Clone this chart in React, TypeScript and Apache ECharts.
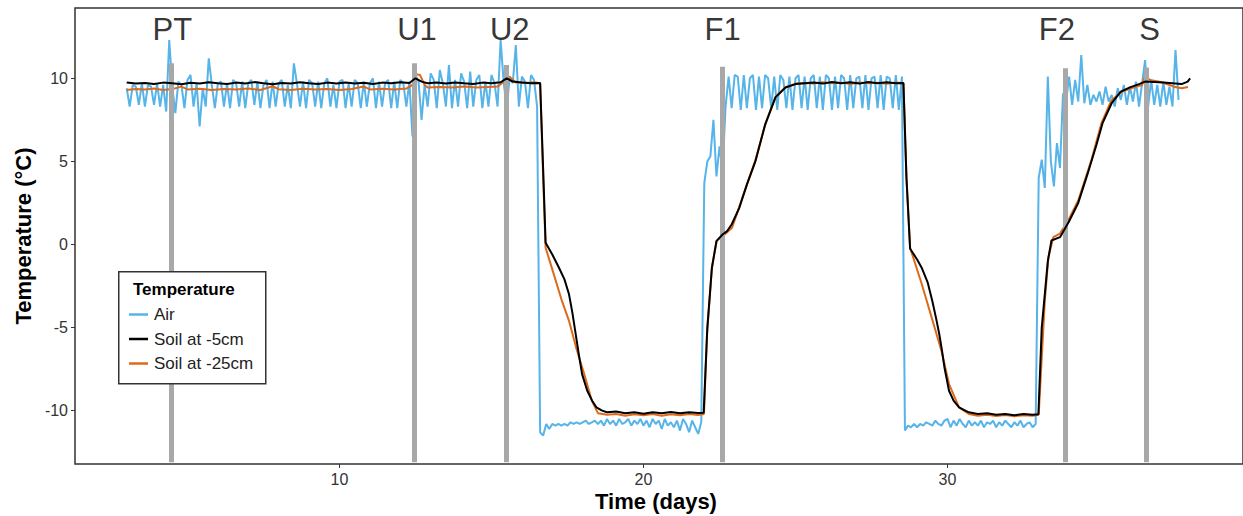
import React, { useEffect, useRef } from "react";
import * as echarts from "echarts";

// ---- data ----
const X_TICKS = [10, 20, 30];
const Y_TICKS = [-10, -5, 0, 5, 10];

const EVENT_LABELS = ["PT", "U1", "U2", "F1", "F2", "S"];
const EVENT_T = [4.45, 12.46, 15.5, 22.59, 33.87, 36.53];
const EVENT_TOP = [10.9, 10.9, 10.8, 10.7, 10.6, 10.65];
const EVENT_BOTTOM = -13.1;
const EVENT_LABEL_T = [4.5, 12.55, 15.6, 22.6, 33.6, 36.65];
const EVENT_LABEL_Y = 12.95;

// Air temperature, sampled every 0.1 day from day 3.0
const AIR_T0 = 3.0;
const AIR_STEP = 0.1;
const AIR_VALUES = [
  9.4, 8.3, 9.6, 9.5, 8.4, 9.7, 8.3, 9.6, 9.5, 8.4,
  9.7, 8.3, 9.6, 8.0, 12.3, 9.5, 7.9, 9.8, 9.6, 8.2,
  9.9, 10.2, 8.3, 9.7, 7.1, 9.4, 8.3, 11.2, 9.6, 8.2,
  9.7, 9.8, 8.3, 9.7, 8.2, 9.9, 9.7, 8.3, 9.8, 8.2,
  9.7, 9.9, 8.4, 9.8, 8.2, 9.6, 9.9, 8.2, 9.8, 8.3,
  9.7, 9.9, 8.3, 9.6, 8.2, 10.9, 9.7, 8.3, 9.8, 8.2,
  9.9, 9.7, 8.3, 9.8, 8.2, 9.7, 10.0, 8.3, 9.6, 8.2,
  9.8, 9.9, 8.2, 9.7, 8.3, 9.9, 9.7, 8.2, 9.8, 8.3,
  9.7, 10.0, 8.2, 9.8, 8.3, 9.7, 9.9, 8.2, 9.8, 8.2,
  9.9, 9.7, 8.3, 9.8, 6.5, 10.2, 9.8, 7.5, 9.6, 8.3,
  10.3, 9.9, 8.2, 10.5, 9.7, 8.3, 10.8, 8.2, 9.9, 8.3,
  10.3, 9.8, 8.2, 10.4, 8.3, 9.9, 10.2, 8.2, 9.8, 8.3,
  10.2, 9.7, 8.3, 12.3, 9.8, 8.2, 10.1, 9.7, 12.0, 8.3,
  10.1, 9.8, 8.2, 10.2, 9.9, 8.3, -11.3, -11.5, -10.8, -11.1,
  -10.8, -10.9, -10.8, -10.9, -10.8, -10.9, -10.7, -10.8, -10.7, -10.8,
  -10.7, -10.6, -10.8, -10.7, -10.6, -10.8, -10.6, -10.9, -10.5, -10.8,
  -10.6, -10.9, -10.5, -10.8, -10.7, -10.5, -10.9, -10.6, -10.8, -10.5,
  -10.9, -10.6, -11.0, -10.5, -10.8, -10.6, -11.1, -10.5, -10.9, -10.7,
  -11.0, -10.6, -11.2, -10.5, -10.8, -11.3, -10.6, -11.0, -11.4, -10.7,
  3.7, 5.0, 5.3, 7.5, 4.1, 5.9, 4.4, 8.3, 10.1, 8.2,
  10.2, 10.1, 8.1, 10.2, 8.2, 10.0, 10.2, 8.1, 10.1, 8.2,
  10.2, 10.0, 8.2, 10.1, 8.1, 10.2, 9.9, 8.2, 10.1, 8.1,
  10.0, 10.2, 8.2, 10.1, 8.1, 10.0, 10.2, 8.2, 10.1, 8.1,
  10.2, 10.0, 8.1, 10.1, 8.2, 10.2, 10.0, 8.1, 10.2, 8.2,
  10.0, 10.1, 8.2, 10.2, 8.1, 10.0, 10.1, 8.2, 10.2, 8.1,
  10.1, 10.0, 8.2, 10.2, 8.1, 10.1, -11.2, -10.9, -11.0, -10.8,
  -11.0, -10.8, -10.9, -10.7, -10.8, -10.9, -10.6, -10.8, -10.9, -10.6,
  -10.5, -11.0, -10.6, -10.9, -10.5, -10.8, -11.0, -10.6, -10.9, -10.7,
  -10.9, -10.6, -11.0, -10.7, -10.8, -10.6, -11.0, -10.7, -10.9, -10.6,
  -10.8, -11.0, -10.7, -10.9, -10.6, -11.0, -10.8, -10.7, -11.0, -10.8,
  4.0, 5.1, 3.4, 10.1, 5.0, 3.5, 6.1, 4.6, 9.1, 8.6,
  10.1, 8.4, 9.9, 8.6, 11.4, 8.5, 9.6, 8.4, 9.0, 8.6,
  9.2, 8.4, 9.5, 8.6, 9.0, 8.3, 9.4, 8.7, 9.6, 8.4,
  9.5, 8.6, 9.8, 8.3, 9.7, 11.1, 8.3, 9.9, 8.4, 9.6,
  8.3, 9.8, 8.4, 9.5, 8.3, 11.7, 8.7,
];

// Soil at -5cm: [day, °C]
const SOIL5 = [
  [3.0, 9.75], [3.3, 9.68], [3.6, 9.72], [3.9, 9.66], [4.2, 9.74], [4.5, 9.7], [4.8, 9.64], [5.1, 9.73],
  [5.4, 9.68], [5.7, 9.76], [6.0, 9.7], [6.3, 9.65], [6.6, 9.74], [6.9, 9.69], [7.2, 9.77], [7.5, 9.7],
  [7.8, 9.64], [8.1, 9.72], [8.4, 9.68], [8.7, 9.76], [9.0, 9.7], [9.3, 9.65], [9.6, 9.74], [9.9, 9.68],
  [10.2, 9.75], [10.5, 9.69], [10.8, 9.73], [11.1, 9.66], [11.4, 9.74], [11.7, 9.7], [12.0, 9.76], [12.3, 9.72],
  [12.5, 10.0], [12.7, 9.8], [12.9, 9.7], [13.2, 9.74], [13.5, 9.68], [13.8, 9.75], [14.1, 9.7], [14.4, 9.66],
  [14.7, 9.74], [15.0, 9.7], [15.3, 9.76], [15.5, 10.0], [15.7, 9.8], [16.0, 9.75], [16.3, 9.7], [16.6, 9.72],
  [16.7, 4.5], [16.78, 0.1], [17.0, -0.6], [17.22, -1.4], [17.4, -2.1], [17.55, -3.0], [17.66, -4.1], [17.77, -5.4],
  [17.88, -6.7], [17.98, -7.8], [18.15, -8.8], [18.31, -9.4], [18.45, -9.8], [18.64, -10.0], [18.8, -10.1], [19.1, -10.05],
  [19.4, -10.15], [19.7, -10.1], [20.0, -10.18], [20.3, -10.1],
  [20.6, -10.15], [20.9, -10.08], [21.2, -10.16], [21.5, -10.1], [21.8, -10.14], [21.98, -10.12], [22.1, -5.0], [22.25, -1.4],
  [22.4, 0.2], [22.6, 0.6], [22.75, 0.8], [22.9, 1.2], [23.15, 2.2], [23.4, 3.6], [23.68, 5.0], [24.0, 7.2],
  [24.34, 8.85], [24.67, 9.45], [25.0, 9.65], [25.3, 9.7], [25.6, 9.75], [25.9, 9.68], [26.2, 9.78], [26.5, 9.7],
  [26.8, 9.76], [27.1, 9.68], [27.4, 9.78], [27.7, 9.7], [28.0, 9.76], [28.3, 9.7], [28.55, 9.72], [28.65, 4.0],
  [28.77, -0.26], [29.0, -0.9], [29.15, -1.4], [29.35, -2.3], [29.5, -3.4], [29.62, -4.4], [29.73, -5.4], [29.82, -6.4],
  [29.9, -7.4], [30.05, -8.8], [30.2, -9.4], [30.38, -9.8], [30.7, -10.1], [31.0, -10.2], [31.3, -10.15], [31.6, -10.25],
  [31.9, -10.2], [32.2, -10.28], [32.5, -10.2], [32.8, -10.25],
  [32.99, -10.22], [33.1, -5.0], [33.3, -1.0], [33.42, 0.24], [33.7, 0.44], [34.0, 1.4], [34.3, 2.5], [34.6, 4.2],
  [34.9, 6.0], [35.1, 7.3], [35.4, 8.5], [35.7, 9.2], [36.0, 9.45], [36.3, 9.65], [36.5, 9.8], [36.8, 9.78],
  [37.1, 9.75], [37.4, 9.7], [37.7, 9.65], [37.9, 9.8], [37.98, 10.0],
];

// Soil at -25cm: [day, °C]
const SOIL25 = [
  [3.0, 9.3], [3.3, 9.36], [3.6, 9.32], [3.9, 9.38], [4.2, 9.3], [4.5, 9.35], [4.8, 9.5], [5.0, 9.33],
  [5.4, 9.37], [5.8, 9.3], [6.2, 9.36], [6.6, 9.32], [7.0, 9.38], [7.4, 9.3], [7.8, 9.52], [8.0, 9.34],
  [8.4, 9.3], [8.8, 9.37], [9.2, 9.32], [9.6, 9.36], [10.0, 9.3], [10.4, 9.36], [10.8, 9.5], [11.0, 9.33],
  [11.4, 9.37], [11.8, 9.32], [12.2, 9.38], [12.4, 9.6], [12.5, 10.25], [12.65, 10.2], [12.8, 9.6], [12.9, 9.45],
  [13.3, 9.48], [13.7, 9.44], [14.1, 9.5], [14.5, 9.45], [14.9, 9.48], [15.2, 9.5], [15.4, 9.8], [15.5, 10.2],
  [15.65, 10.0], [15.8, 9.75], [16.1, 9.72], [16.4, 9.76], [16.6, 9.7], [16.7, 4.0], [16.78, -0.2], [17.0, -1.5],
  [17.3, -3.3], [17.55, -4.6], [17.8, -6.3], [18.05, -7.8], [18.3, -9.4], [18.5, -10.15], [18.8, -10.25], [19.1, -10.2],
  [19.4, -10.3], [19.7, -10.22], [20.0, -10.28], [20.3, -10.2], [20.6, -10.3], [20.9, -10.22], [21.2, -10.28], [21.5, -10.2],
  [21.8, -10.26], [21.99, -10.2], [22.09, -5.4], [22.25, -1.4], [22.41, 0.24], [22.71, 0.66], [22.91, 1.0], [23.14, 2.2],
  [23.4, 3.6], [23.68, 5.06], [24.01, 7.27], [24.34, 8.87], [24.67, 9.47], [25.0, 9.68], [25.3, 9.72], [25.6, 9.68],
  [25.9, 9.76], [26.2, 9.7], [26.5, 9.74], [26.8, 9.66], [27.1, 9.75], [27.4, 9.7], [27.7, 9.73], [28.0, 9.67],
  [28.3, 9.74], [28.55, 9.7], [28.65, 4.0], [28.77, -0.2], [29.15, -2.36], [29.48, -4.4], [29.8, -6.4], [30.05, -8.4],
  [30.38, -9.8], [30.7, -10.2], [31.0, -10.3], [31.3, -10.25], [31.6, -10.32], [31.9, -10.26], [32.2, -10.33], [32.5, -10.27],
  [32.8, -10.3], [33.0, -10.25], [33.2, -3.4], [33.32, -0.76], [33.48, 0.44], [33.7, 0.66], [33.97, 1.45], [34.3, 2.65],
  [34.73, 5.06], [35.06, 7.28], [35.39, 8.67], [35.71, 9.17], [36.16, 9.47], [36.4, 9.6], [36.49, 10.08], [36.7, 9.88],
  [37.03, 9.78], [37.3, 9.6], [37.48, 9.47], [37.7, 9.4], [37.91, 9.47],
];

const SERIES_NAMES = ["Air", "Soil at -5cm", "Soil at -25cm"];
const COLORS = { air: "#56B4E9", soil5: "#000000", soil25: "#DE6A1B", event: "#A8A8A8" };

const FONT = "'Liberation Sans', Arial, sans-serif";

export default function App() {
  const ref = useRef<HTMLDivElement>(null);

  useEffect(() => {
    if (!ref.current) return;
    const chart = echarts.init(ref.current, null, { renderer: "svg" });

    const airData = AIR_VALUES.map((v, i) => [Math.round((AIR_T0 + i * AIR_STEP) * 100) / 100, v]);
    const eventLines = EVENT_T.map((t, i) => [
      { coord: [t, EVENT_BOTTOM] },
      { coord: [t, EVENT_TOP[i]] },
    ]);
    const labelData = EVENT_LABEL_T.map((t, i) => ({ name: EVENT_LABELS[i], value: [t, EVENT_LABEL_Y] }));

    chart.setOption({
      animation: false,
      backgroundColor: "#ffffff",
      grid: {
        left: 75, top: 8, width: 1170, height: 456,
        show: true, borderColor: "#333", borderWidth: 1.5, backgroundColor: "transparent",
      },
      xAxis: {
        type: "value", min: 1.3, max: 39.72,
        axisLine: { show: false, onZero: false },
        splitLine: { show: false },
        axisTick: { show: true, length: 4, lineStyle: { color: "#333" }, customValues: X_TICKS },
        axisLabel: { color: "#333", fontSize: 16, fontFamily: FONT, margin: 7, customValues: X_TICKS },
      },
      yAxis: {
        type: "value", min: -13.21, max: 14.23,
        axisLine: { show: false, onZero: false },
        splitLine: { show: false },
        axisTick: { show: true, length: 4, lineStyle: { color: "#333" }, customValues: Y_TICKS },
        axisLabel: { color: "#333", fontSize: 16, fontFamily: FONT, margin: 7, customValues: Y_TICKS },
      },
      legend: {
        data: SERIES_NAMES,
        orient: "vertical",
        left: 129, top: 306,
        padding: 0,
        icon: "rect",
        itemWidth: 19, itemHeight: 2.5, itemGap: 7.5,
        textStyle: { fontSize: 17, lineHeight: 17, color: "#222", fontFamily: FONT, padding: [0, 0, 0, 1] },
        z: 10,
      },
      graphic: [
        {
          type: "rect", left: 118, top: 271, z: 8,
          shape: { width: 147, height: 112 },
          style: { fill: "#fff", stroke: "#333", lineWidth: 1.5 },
        },
        {
          type: "text", left: 133, top: 281, z: 9,
          style: { text: "Temperature", font: `bold 17px ${FONT}`, fill: "#000" },
        },
        {
          type: "text", x: 23, y: 236, rotation: Math.PI / 2, z: 9,
          style: { text: "Temperature (°C)", font: `bold 22px ${FONT}`, fill: "#000", align: "center", verticalAlign: "middle" },
        },
        {
          type: "text", x: 656, y: 501, z: 9,
          style: { text: "Time (days)", font: `bold 22px ${FONT}`, fill: "#000", align: "center", verticalAlign: "middle" },
        },
      ],
      series: [
        {
          name: "Air", type: "line", data: airData, symbol: "none", z: 2,
          lineStyle: { color: COLORS.air, width: 2 }, itemStyle: { color: COLORS.air },
        },
        {
          name: "events", type: "line", data: [], z: 3, silent: true,
          markLine: {
            silent: true, symbol: ["none", "none"], label: { show: false },
            lineStyle: { color: COLORS.event, width: 5, type: "solid", opacity: 1 },
            data: eventLines,
          },
        },
        {
          name: "Soil at -25cm", type: "line", data: SOIL25, symbol: "none", z: 4,
          lineStyle: { color: COLORS.soil25, width: 2 }, itemStyle: { color: COLORS.soil25 },
        },
        {
          name: "Soil at -5cm", type: "line", data: SOIL5, symbol: "none", z: 5,
          lineStyle: { color: COLORS.soil5, width: 2 }, itemStyle: { color: COLORS.soil5 },
        },
        {
          name: "labels", type: "scatter", data: labelData, symbolSize: 1, z: 6, silent: true,
          itemStyle: { color: "transparent" },
          label: {
            show: true, position: "inside", formatter: "{b}",
            fontSize: 31, color: "#000", textBorderWidth: 0, fontFamily: FONT,
          },
        },
      ],
    });

    return () => chart.dispose();
  }, []);

  return (
    <div
      ref={ref}
      style={{ position: "absolute", left: 0, top: 0, width: 1243, height: 516, background: "#fff" }}
    />
  );
}
